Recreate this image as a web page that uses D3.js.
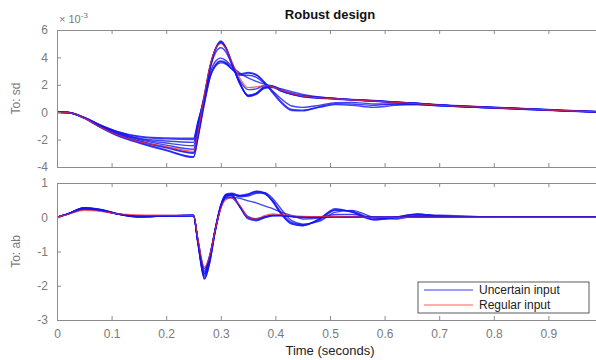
<!DOCTYPE html>
<html>
<head>
<meta charset="utf-8">
<script src="https://cdn.jsdelivr.net/npm/d3@7"></script>
<style>
  html, body { margin: 0; padding: 0; background: #fff; }
  svg { display: block; font-family: "Liberation Sans", Arial, sans-serif; }
</style>
</head>
<body>
<div id="chart"></div>
<script>
// Time grid (seconds), shared by every response
const time = [0, 0.02, 0.05, 0.08, 0.11, 0.15, 0.2, 0.25,
  0.258, 0.27, 0.28, 0.29, 0.30, 0.31, 0.32,
  0.335, 0.35, 0.365, 0.38, 0.395, 0.41, 0.43, 0.45,
  0.48, 0.51, 0.54, 0.58, 0.62, 0.66, 0.7,
  0.78, 0.86, 0.94, 1.0];

// Top panel, To: sd (x 1e-3)
const sdUncertain = [
  [0, -0.02, -0.4, -1.0, -1.45, -1.9, -2.1, -2.2,
   -0.9, 1.3, 3.3, 4.6, 5.15, 4.65, 3.6,
   2.1, 1.25, 1.4, 1.85, 1.85, 1.55, 1.3, 1.15,
   1.05, 0.97, 0.9, 0.82, 0.72, 0.63, 0.52,
   0.37, 0.24, 0.1, 0.02],
  [0, -0.02, -0.4, -1.0, -1.5, -1.95, -2.25, -2.45,
   -1.1, 1.2, 3.25, 4.6, 5.1, 4.6, 3.55,
   2.05, 1.2, 1.35, 1.8, 1.9, 1.6, 1.3, 1.12,
   1.02, 0.95, 0.88, 0.8, 0.71, 0.62, 0.51,
   0.36, 0.23, 0.09, 0.01],
  [0, -0.02, -0.45, -1.12, -1.7, -2.25, -2.8, -3.3,
   -1.9, 1.0, 3.2, 4.6, 5.2, 4.7, 3.65,
   2.15, 1.15, 1.3, 1.75, 1.8, 1.55, 1.32, 1.18,
   1.08, 1.0, 0.92, 0.84, 0.74, 0.64, 0.53,
   0.38, 0.25, 0.11, 0.03],
  [0, -0.02, -0.4, -1.05, -1.55, -2.0, -2.4, -2.7,
   -1.3, 1.1, 3.1, 4.3, 4.7, 4.35, 3.5,
   2.3, 1.65, 1.7, 1.95, 1.9, 1.65, 1.4, 1.22,
   1.1, 1.0, 0.93, 0.85, 0.75, 0.65, 0.55,
   0.4, 0.26, 0.12, 0.04],
  [0, -0.02, -0.38, -0.95, -1.4, -1.75, -1.88, -1.9,
   -0.7, 1.0, 2.6, 3.4, 3.7, 3.55, 3.15,
   2.75, 2.85, 2.7, 2.15, 1.4, 0.7, 0.12, 0.1,
   0.4, 0.62, 0.6, 0.5, 0.6, 0.58, 0.48,
   0.34, 0.22, 0.08, 0.0],
  [0, -0.02, -0.42, -1.08, -1.62, -2.12, -2.6, -3.0,
   -1.7, 0.7, 2.5, 3.35, 3.6, 3.5, 3.15,
   2.8, 2.9, 2.75, 2.2, 1.5, 0.8, 0.2, 0.15,
   0.35, 0.55, 0.5, 0.35, 0.5, 0.55, 0.47,
   0.33, 0.2, 0.07, -0.01],
  [0, -0.02, -0.38, -0.95, -1.42, -1.8, -1.95, -2.0,
   -0.8, 1.1, 2.8, 3.7, 3.95, 3.75, 3.35,
   2.85, 2.5, 2.25, 2.05, 1.9, 1.72, 1.5, 1.3,
   1.12, 1.0, 0.92, 0.83, 0.73, 0.63, 0.52,
   0.37, 0.24, 0.1, 0.02],
  [0, -0.02, -0.42, -1.05, -1.6, -2.1, -2.55, -2.95,
   -1.6, 1.0, 3.2, 4.55, 5.05, 4.6, 3.6,
   2.1, 1.2, 1.35, 1.8, 1.85, 1.58, 1.32, 1.16,
   1.06, 0.98, 0.9, 0.82, 0.73, 0.63, 0.52,
   0.37, 0.24, 0.1, 0.02],
  [0, -0.02, -0.44, -1.1, -1.68, -2.2, -2.75, -3.25,
   -1.9, 0.6, 2.5, 3.45, 3.75, 3.6, 3.2,
   2.7, 2.7, 2.55, 2.1, 1.55, 1.0, 0.45, 0.35,
   0.5, 0.7, 0.72, 0.6, 0.6, 0.56, 0.47,
   0.34, 0.22, 0.08, 0.0]
];
const sdRegular = [0, -0.02, -0.42, -1.1, -1.65, -2.15, -2.5, -2.85,
  -1.5, 1.3, 3.4, 4.6, 5.0, 4.6, 3.7,
  2.5, 1.8, 1.85, 1.95, 1.85, 1.6, 1.35, 1.18,
  1.05, 0.97, 0.9, 0.82, 0.72, 0.62, 0.51,
  0.36, 0.23, 0.1, 0.02];

// Bottom panel, To: ab
const abUncertain = [
  [0, 0.1, 0.25, 0.2, 0.1, 0.03, 0.04, 0.05,
   -0.7, -1.6, -1.15, -0.35, 0.3, 0.6, 0.65,
   0.3, -0.02, -0.08, 0.0, 0.05, 0.05, 0.02, 0.0,
   0.0, 0.02, 0.01, 0.0, 0.0, 0.0, 0.0,
   0, 0, 0, 0],
  [0, 0.1, 0.27, 0.22, 0.1, 0.02, 0.04, 0.05,
   -0.75, -1.75, -1.25, -0.4, 0.3, 0.63, 0.64,
   0.3, -0.05, -0.1, -0.02, 0.04, 0.05, 0.02, 0.0,
   0.0, 0.01, 0.01, 0.0, 0.0, 0.0, 0.0,
   0, 0, 0, 0],
  [0, 0.1, 0.28, 0.22, 0.1, 0.0, 0.04, 0.05,
   -0.7, -1.8, -1.3, -0.35, 0.35, 0.66, 0.68,
   0.63, 0.66, 0.75, 0.7, 0.45, 0.1, -0.2, -0.25,
   -0.05, 0.25, 0.15, -0.08, 0.0, 0.1, 0.03,
   0, 0, 0, 0],
  [0, 0.1, 0.26, 0.21, 0.1, 0.02, 0.04, 0.05,
   -0.7, -1.7, -1.2, -0.35, 0.32, 0.64, 0.66,
   0.62, 0.65, 0.72, 0.68, 0.48, 0.15, -0.15, -0.22,
   -0.08, 0.2, 0.18, -0.05, -0.02, 0.08, 0.04,
   0.01, 0, 0, 0],
  [0, 0.1, 0.27, 0.21, 0.1, 0.01, 0.04, 0.05,
   -0.72, -1.65, -1.15, -0.32, 0.35, 0.66, 0.67,
   0.6, 0.62, 0.7, 0.72, 0.55, 0.25, -0.1, -0.2,
   -0.12, 0.15, 0.2, 0.0, -0.05, 0.05, 0.06,
   0.01, 0, 0, 0],
  [0, 0.09, 0.24, 0.2, 0.1, 0.03, 0.04, 0.05,
   -0.65, -1.55, -1.1, -0.35, 0.3, 0.55, 0.58,
   0.55, 0.48, 0.42, 0.33, 0.25, 0.15, 0.05, -0.05,
   -0.02, 0.08, 0.08, 0.0, 0.0, 0.03, 0.02,
   0, 0, 0, 0],
  [0, 0.09, 0.23, 0.19, 0.1, 0.04, 0.05, 0.05,
   -0.65, -1.5, -1.1, -0.36, 0.28, 0.58, 0.57,
   0.3, 0.0, -0.06, 0.0, 0.05, 0.06, 0.03, 0.01,
   0.0, 0.01, 0.0, 0.0, 0.0, 0.0, 0.0,
   0, 0, 0, 0],
  [0, 0.1, 0.28, 0.23, 0.11, 0.02, 0.04, 0.05,
   -0.75, -1.8, -1.3, -0.4, 0.35, 0.68, 0.7,
   0.64, 0.68, 0.76, 0.72, 0.48, 0.12, -0.18, -0.24,
   -0.06, 0.22, 0.16, -0.06, 0.0, 0.09, 0.03,
   0, 0, 0, 0],
  [0, 0.1, 0.25, 0.21, 0.1, 0.03, 0.04, 0.05,
   -0.7, -1.65, -1.15, -0.34, 0.32, 0.63, 0.62,
   0.32, 0.02, -0.04, 0.02, 0.06, 0.05, 0.02, 0.0,
   0.0, 0.01, 0.0, 0.0, 0.0, 0.0, 0.0,
   0, 0, 0, 0]
];
const abRegular = [0, 0.08, 0.2, 0.17, 0.1, 0.07, 0.06, 0.05,
  -0.6, -1.45, -1.1, -0.35, 0.25, 0.52, 0.56,
  0.35, 0.0, -0.05, 0.05, 0.1, 0.08, 0.05, 0.03,
  0.02, 0.02, 0.01, 0.0, 0.0, 0.0, 0.0,
  0, 0, 0, 0];

const xTicks = [0, 0.1, 0.2, 0.3, 0.4, 0.5, 0.6, 0.7, 0.8, 0.9, 1];
const xTickLabels = ['0', '0.1', '0.2', '0.3', '0.4', '0.5', '0.6', '0.7', '0.8', '0.9', ''];
const sdTicks = [-4, -2, 0, 2, 4, 6];
const abTicks = [-3, -2, -1, 0, 1];
const legendLabels = ['Uncertain input', 'Regular input'];

const width = 596, height = 360;
const axisColor = '#8c8c8c';
const labelColor = '#7a7a7a';
const blue = '#1414f0';
const red = '#ff2a2a';

const svg = d3.select('#chart')
    .append('svg')
    .attr('width', width)
    .attr('height', height);

const x = d3.scaleLinear().domain([0, 1]).range([57, 603]);

const panels = [
    { id: 'sd', top: 30, bottom: 167, domain: [-4, 6], ticks: sdTicks, label: 'To: sd',
      uncertain: sdUncertain, regular: sdRegular, showX: false },
    { id: 'ab', top: 183, bottom: 320, domain: [-3, 1], ticks: abTicks, label: 'To: ab',
      uncertain: abUncertain, regular: abRegular, showX: true }
];

panels.forEach(p => {
    const y = d3.scaleLinear().domain(p.domain).range([p.bottom, p.top]);
    const g = svg.append('g');

    svg.append('clipPath').attr('id', 'clip-' + p.id)
        .append('rect')
        .attr('x', x(0)).attr('y', p.top)
        .attr('width', x(1) - x(0)).attr('height', p.bottom - p.top);

    const line = d3.line()
        .x((d, i) => x(time[i]))
        .y(d => y(d))
        .curve(d3.curveMonotoneX);

    const plot = g.append('g').attr('clip-path', `url(#clip-${p.id})`);

    plot.selectAll('path.unc')
        .data(p.uncertain)
        .enter()
        .append('path')
        .attr('class', 'unc')
        .attr('d', line)
        .attr('fill', 'none')
        .attr('stroke', blue)
        .attr('stroke-width', 1.4)
        .attr('stroke-opacity', 0.8);

    plot.append('path')
        .datum(p.regular)
        .attr('d', line)
        .attr('fill', 'none')
        .attr('stroke', red)
        .attr('stroke-width', 1.1)
        .attr('stroke-opacity', 0.75);

    // Box axes with inward ticks (MATLAB style)
    const bottomAxis = d3.axisBottom(x).tickValues(xTicks).tickSizeInner(-4).tickSizeOuter(0)
        .tickPadding(9).tickFormat(p.showX ? ((d, i) => xTickLabels[i]) : '');
    const topAxis = d3.axisTop(x).tickValues(xTicks).tickSizeInner(-4).tickSizeOuter(0).tickFormat('');
    const leftAxis = d3.axisLeft(y).tickValues(p.ticks).tickSizeInner(-4).tickSizeOuter(0)
        .tickPadding(9).tickFormat(d => String(d));

    const gb = g.append('g').attr('transform', `translate(0,${p.bottom})`).call(bottomAxis);
    const gt = g.append('g').attr('transform', `translate(0,${p.top})`).call(topAxis);
    const gl = g.append('g').attr('transform', `translate(${x(0)},0)`).call(leftAxis);

    [gb, gt, gl].forEach(a => {
        a.select('.domain').attr('stroke', axisColor);
        a.selectAll('.tick line').attr('stroke', axisColor);
        a.selectAll('.tick text')
            .attr('fill', labelColor)
            .style('font-size', '12px')
            .style('font-family', '"Liberation Sans", Arial, sans-serif');
    });

    g.append('text')
        .attr('transform', `translate(20,${(p.top + p.bottom) / 2}) rotate(-90)`)
        .attr('text-anchor', 'middle')
        .attr('fill', labelColor)
        .style('font-size', '12px')
        .text(p.label);
});

// Exponent label
const expo = svg.append('text')
    .attr('x', 59)
    .attr('y', 23)
    .attr('fill', labelColor)
    .style('font-size', '11px');
expo.append('tspan').text('\u00d7 10');
expo.append('tspan').attr('dy', -5).style('font-size', '8px').text('-3');

// Title
svg.append('text')
    .attr('x', 330)
    .attr('y', 19)
    .attr('text-anchor', 'middle')
    .attr('fill', '#111')
    .style('font-size', '13px')
    .style('font-weight', 'bold')
    .text('Robust design');

// X label
svg.append('text')
    .attr('x', 330)
    .attr('y', 355)
    .attr('text-anchor', 'middle')
    .attr('fill', '#222')
    .style('font-size', '13px')
    .text('Time (seconds)');

// Legend
const legend = svg.append('g').attr('transform', 'translate(418,282)');
legend.append('rect')
    .attr('width', 171)
    .attr('height', 31)
    .attr('fill', '#fff')
    .attr('stroke', '#333')
    .attr('stroke-width', 0.8);
const legendColors = ['#3a3aff', '#ff5a5a'];
legendLabels.forEach((name, i) => {
    const yy = 8 + i * 15;
    legend.append('line')
        .attr('x1', 6).attr('x2', 55)
        .attr('y1', yy).attr('y2', yy)
        .attr('stroke', legendColors[i])
        .attr('stroke-width', 1.2);
    legend.append('text')
        .attr('x', 61)
        .attr('y', yy + 4)
        .attr('fill', '#222')
        .style('font-size', '12px')
        .text(name);
});
</script>
</body>
</html>
